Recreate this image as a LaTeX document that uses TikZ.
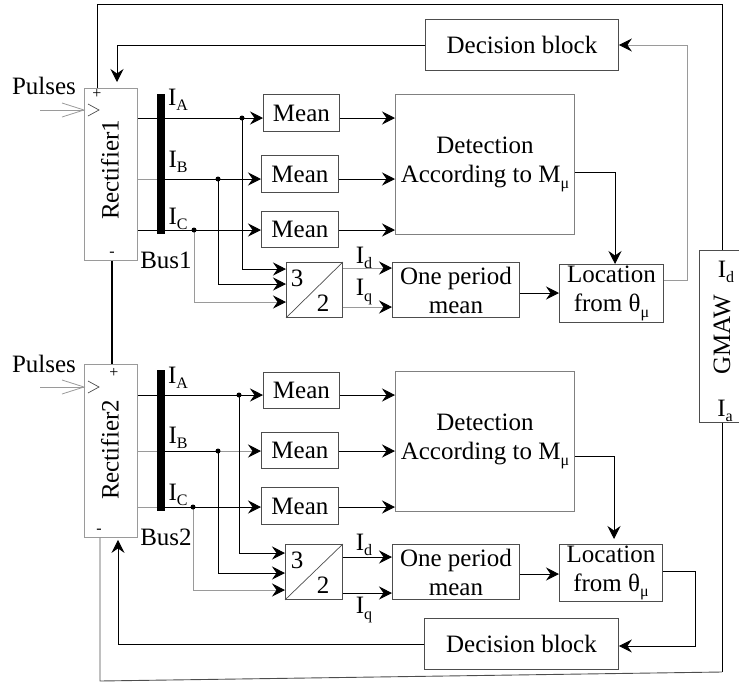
\documentclass[tikz,border=0pt]{standalone}
\usepackage{fontspec}
\setmainfont{Liberation Serif}
\usetikzlibrary{arrows.meta}
\newcommand{\sbs}[1]{\raisebox{-0.22em}{\fontsize{16}{16}\selectfont #1}}
\definecolor{bx}{HTML}{4D4D4D}
\definecolor{lg}{HTML}{9A9A9A}
\begin{document}
\begin{tikzpicture}[x=1pt,y=-1pt,font=\fontsize{25}{29}\selectfont,
  blk/.style={draw=bx,line width=0.9pt,inner sep=0pt,align=center,anchor=north west},
  ar/.style={-{Stealth[length=13pt,width=13pt,inset=4.5pt,color=black]},line width=0.9pt},
  ln/.style={line width=0.9pt},
  pm/.style={font=\fontsize{16}{16}\selectfont,inner sep=0pt},
  bar/.style={fill=black,draw=none,inner sep=0pt,minimum width=8pt,anchor=north west},
  dot/.style={circle,fill=black,inner sep=0pt,minimum size=5pt}]
\useasboundingbox (0,0) rectangle (739,683);
% ---------- top half ----------
\node[blk,draw=lg,minimum width=53,minimum height=172] (r1) at (84,88) {};
\node[rotate=90] (r1t) at (110,170) {Rectifier1};
\node[bar,minimum height=140] (bus1) at (157,94) {};
\node[blk,minimum width=76,minimum height=37] (m1a) at (263,94) {Mean};
\node[blk,minimum width=77,minimum height=37] (m1b) at (261,155) {Mean};
\node[blk,minimum width=77,minimum height=36] (m1c) at (261,211) {Mean};
\node[blk,draw=gray,minimum width=179,minimum height=140] (det1) at (395,94) {Detection\\According to M\sbs{μ}};
\node[blk,minimum width=56,minimum height=55] (t1) at (286,262) {};
\node[blk,minimum width=127,minimum height=55] (opm1) at (392,262) {One period\\mean};
\node[blk,minimum width=104,minimum height=58] (loc1) at (559,264) {Location\\from θ\sbs{μ}};
\node[blk,minimum width=193,minimum height=51] (db1) at (425,19) {Decision block};
\node[blk,minimum width=40,minimum height=172] (gm) at (699,250) {};
\node[rotate=90] (gmt) at (722,335) {GMAW};
\node (gmd) at (726,272) {I\sbs{d}};
\node (gma) at (725,411) {I\sbs{a}};
\draw[bx,line width=0.7pt] (t1.south west) -- (t1.north east);
\node (t1a) at ([xshift=11pt,yshift=-16pt]t1.north west) {3};
\node (t1b) at ([xshift=37pt,yshift=-41pt]t1.north west) {2};
\node (la1) at (178,100) {I\sbs{A}};
\node (lb1) at (178,162) {I\sbs{B}};
\node (lc1) at (178,219) {I\sbs{C}};
\node (bl1) at (166,260) {Bus1};
\node (ld1) at (364,258) {I\sbs{d}};
\node (lq1) at (364,292) {I\sbs{q}};
\node (pu1) at (44,86) {Pulses};
\node[pm] (pl1) at (97,94) {+};
\node[pm] (mi1) at (112,254) {-};
\coordinate (ya1) at (0,118); \coordinate (yb1) at (0,179); \coordinate (yc1) at (0,230);
\coordinate (ja1) at (242,118); \coordinate (jb1) at (218,179); \coordinate (jc1) at (194,230);
\draw[ln] (r1.east |- ya1) -- (ja1);
\draw[ln,draw=lg] (r1.east |- yb1) -- (bus1.west |- yb1);
\draw[ln] (bus1.east |- yb1) -- (jb1);
\draw[ln] (r1.east |- yc1) -- (jc1);
\draw[ar] (ja1) -- (m1a.west |- ya1);
\draw[ar] (jb1) -- (m1b.west |- yb1);
\draw[ar] (jc1) -- (m1c.west |- yc1);
\draw[ar] (m1a.east |- ya1) -- (det1.west |- ya1);
\draw[ar] (m1b.east |- yb1) -- (det1.west |- yb1);
\draw[ar] (m1c.east |- yc1) -- (det1.west |- yc1);
\draw[ar] (ja1) |- (t1.west |- 0,269);
\draw[ar] (jb1) |- (t1.west |- 0,284);
\draw[ar,draw=lg] (jc1) |- (t1.west |- 0,302);
\node[dot] (da1) at (ja1) {}; \node[dot] (db1d) at (jb1) {}; \node[dot] (dc1) at (jc1) {};
\draw[ar,draw=lg] (t1.east |- 0,268) -- (opm1.west |- 0,268);
\draw[ar,draw=lg] (t1.east |- 0,307) -- (opm1.west |- 0,307);
\draw[ar] (opm1.east |- 0,293) -- (loc1.west |- 0,293);
\coordinate (dq1) at (615,172);
\draw[ar] (det1.east |- dq1) -| (loc1.north -| dq1);
\coordinate (k1) at (687,45);
\draw[ar,draw=lg] (loc1.east |- 0,280) -| (k1) -- (db1.east |- k1);
\coordinate (k2) at (117,45);
\draw[ar,shorten >=6pt] (db1.west |- k2) -- (k2) -- (r1.north -| k2);
\coordinate (o1) at (97,4); \coordinate (o2) at (722,4);
\draw[ln] (r1.north -| o1) -- (o1) -- (o2) -- (gm.north -| o2);
\coordinate (p1) at (40,110);
\draw[lg,line width=0.8pt] (p1) -- (r1.west |- p1);
\draw[lg,line width=0.8pt] (62,103) -- (r1.west |- p1) -- (62,117);
\draw[bx,line width=0.7pt] (88,104) -- (99,110) -- (88,116);
% ---------- link between rectifiers ----------
\coordinate (tk) at (112,0);
% ---------- bottom half ----------
\node[blk,draw=lg,minimum width=53,minimum height=173] (r2) at (84,364) {};
\node[rotate=90] (r2t) at (110,450) {Rectifier2};
\draw[line width=2.5pt] (r1.south -| tk) -- (r2.north -| tk);
\node[bar,minimum height=141] (bus2) at (157,370) {};
\node[blk,minimum width=76,minimum height=36] (m2a) at (263,372) {Mean};
\node[blk,minimum width=77,minimum height=36] (m2b) at (261,432) {Mean};
\node[blk,minimum width=77,minimum height=37] (m2c) at (261,487) {Mean};
\node[blk,draw=gray,minimum width=179,minimum height=140] (det2) at (395,371) {Detection\\According to M\sbs{μ}};
\node[blk,minimum width=57,minimum height=55] (t2) at (285,544) {};
\node[blk,minimum width=127,minimum height=55] (opm2) at (392,544) {One period\\mean};
\node[blk,minimum width=103,minimum height=57] (loc2) at (559,544) {Location\\from θ\sbs{μ}};
\node[blk,minimum width=194,minimum height=51] (db2) at (424,618) {Decision block};
\draw[bx,line width=0.7pt] (t2.south west) -- (t2.north east);
\node (t2a) at ([xshift=12pt,yshift=-16pt]t2.north west) {3};
\node (t2b) at ([xshift=38pt,yshift=-41pt]t2.north west) {2};
\node (la2) at (178,378) {I\sbs{A}};
\node (lb2) at (178,438) {I\sbs{B}};
\node (lc2) at (178,495) {I\sbs{C}};
\node (bl2) at (166,537) {Bus2};
\node (ld2) at (364,545) {I\sbs{d}};
\node (lq2) at (364,610) {I\sbs{q}};
\node (pu2) at (44,364) {Pulses};
\node[pm] (pl2) at (114,373) {+};
\node[pm] (mi2) at (99,531) {-};
\coordinate (ya2) at (0,395); \coordinate (yb2) at (0,451); \coordinate (yc2) at (0,507);
\coordinate (ja2) at (239,395); \coordinate (jb2) at (218,451); \coordinate (jc2) at (193,507);
\draw[ln] (r2.east |- ya2) -- (ja2);
\draw[ln,draw=lg] (r2.east |- yb2) -- (bus2.west |- yb2);
\draw[ln] (bus2.east |- yb2) -- (jb2);
\draw[ln,draw=lg] (r2.east |- yc2) -- (bus2.west |- yc2);
\draw[ln] (bus2.east |- yc2) -- (jc2);
\draw[ar] (ja2) -- (m2a.west |- ya2);
\draw[ar,draw=lg] (jb2) -- (m2b.west |- yb2);
\draw[ar] (jc2) -- (m2c.west |- yc2);
\draw[ar] (m2a.east |- ya2) -- (det2.west |- ya2);
\draw[ar] (m2b.east |- yb2) -- (det2.west |- yb2);
\draw[ar] (m2c.east |- yc2) -- (det2.west |- yc2);
\draw[ar] (ja2) |- (t2.west |- 0,553);
\draw[ar] (jb2) |- (t2.west |- 0,573);
\draw[ar,draw=lg] (jc2) |- (t2.west |- 0,590);
\node[dot] (da2) at (ja2) {}; \node[dot] (db2d) at (jb2) {}; \node[dot] (dc2) at (jc2) {};
\draw[ar] (t2.east |- 0,557) -- (opm2.west |- 0,557);
\draw[ar] (t2.east |- 0,593) -- (opm2.west |- 0,593);
\draw[ar] (opm2.east |- 0,574) -- (loc2.west |- 0,574);
\coordinate (dq2) at (614,456);
\draw[ar,shorten >=5pt] (det2.east |- dq2) -| (loc2.north -| dq2);
\coordinate (k4) at (695,646);
\draw[ar] (loc2.east |- 0,571) -| (k4) -- (db2.east |- k4);
\coordinate (k3) at (118,644);
\draw[ar,shorten >=2pt] (db2.west |- k3) -- (k3) -- (r2.south -| k3);
\coordinate (o3) at (722,672); \coordinate (o4) at (100,681);
\draw[ln] (gm.south -| o3) -- (o3);
\draw[ln,draw=bx] (o3) -- (o4) -- (r2.south -| o4);
\coordinate (p2) at (40,387);
\draw[lg,line width=0.8pt] (p2) -- (r2.west |- p2);
\draw[lg,line width=0.8pt] (62,380) -- (r2.west |- p2) -- (62,394);
\draw[bx,line width=0.7pt] (88,381) -- (99,387) -- (88,393);
\end{tikzpicture}
\end{document}
